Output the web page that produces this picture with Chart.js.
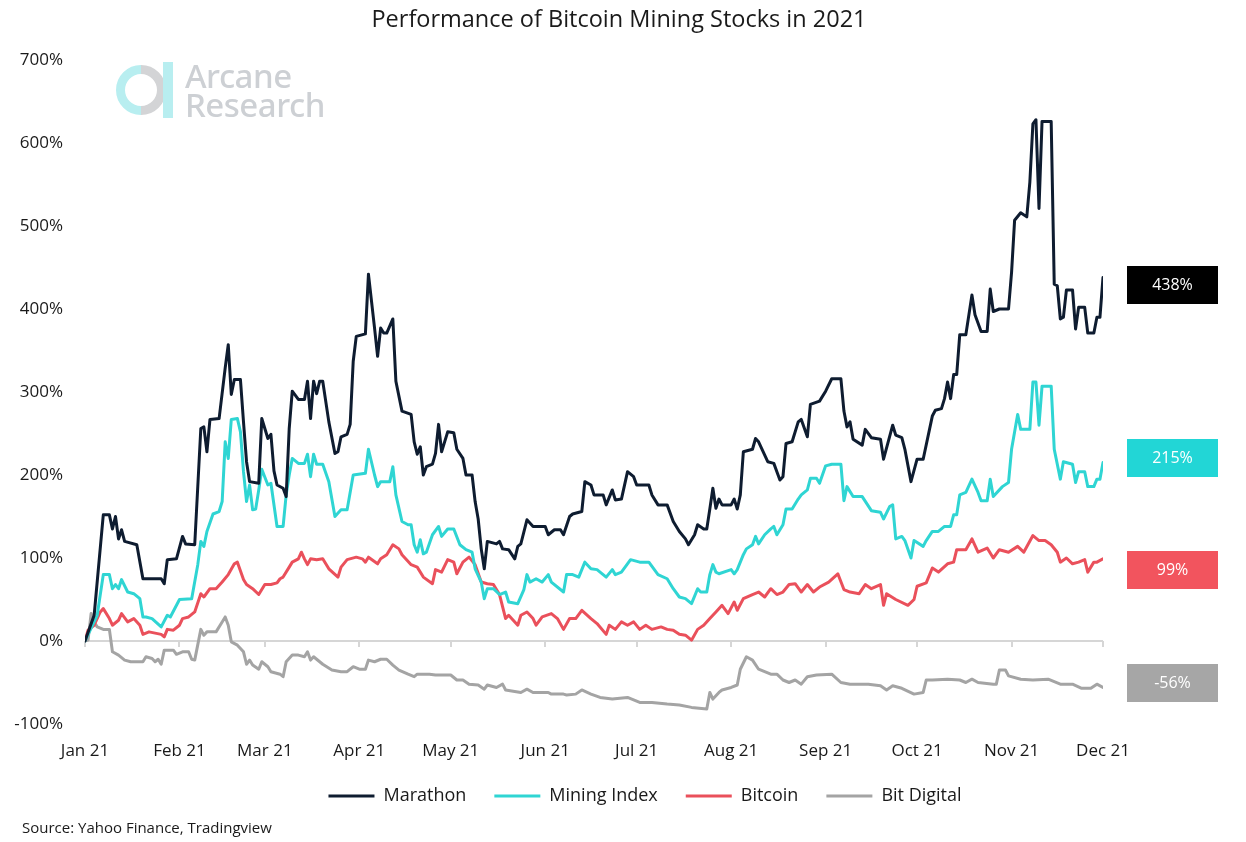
<!DOCTYPE html>
<html><head><meta charset="utf-8">
<script src="https://cdn.jsdelivr.net/npm/chart.js@4.4.1/dist/chart.umd.min.js"></script>
<style>
html,body{margin:0;padding:0;background:#fff;}
#wrap{position:relative;width:1246px;height:842px;overflow:hidden;}
#title{position:absolute;left:0;width:1238px;top:2px;text-align:center;font-family:'Open Sans',sans-serif;font-size:23.5px;color:#1a1a1a;}
#logo{position:absolute;left:115px;top:60px;width:240px;height:62px;}
#logo .txt{position:absolute;left:70px;top:1px;font-family:'Noto Sans',sans-serif;font-weight:500;font-size:33px;line-height:29px;color:#cdd0d4;letter-spacing:-0.5px;}
#source{position:absolute;left:22px;top:817px;font-family:'Open Sans',sans-serif;font-size:15px;color:#1a1a1a;}
canvas{position:absolute;left:0;top:0;}
</style></head>
<body><div id="wrap">
<canvas id="c" width="1246" height="842"></canvas>
<div id="title">Performance of Bitcoin Mining Stocks in 2021</div>
<div id="logo"><svg width="62" height="62" viewBox="0 0 62 62" style="position:absolute;left:0;top:0">
<path d="M26 9.5 A20.5 20.5 0 0 0 26 50.5" fill="none" stroke="#b8eef0" stroke-width="9"/>
<path d="M26 9.5 A20.5 20.5 0 0 1 26 50.5" fill="none" stroke="#d3d4d6" stroke-width="9"/>
<rect x="48" y="2" width="10" height="56" fill="#b8eef0"/>
</svg><div class="txt">Arcane<br>Research</div></div>
<div id="source">Source: Yahoo Finance, Tradingview</div>
</div>
<script>
// ---- Data (day offset from 1 Jan 2021, cumulative return in %) ----
const monthStarts = [0,31,59,90,120,151,181,212,243,273,304,334];
const monthLabels = ['Jan 21','Feb 21','Mar 21','Apr 21','May 21','Jun 21','Jul 21','Aug 21','Sep 21','Oct 21','Nov 21','Dec 21'];

const marathonDays = [0,3,6,8,9,10,11,12,13,17,19,25,26,27,30,32,33,36,38,39,40,41,44,46,47,48,49,51,52,53,54,57,58,60,61,62,63,65,66,67,68,70,72,73,74,75,76,77,78,80,82,83,84,86,87,88,89,92,93,95,96,97,98,99,101,102,104,107,108,109,110,111,112,114,115,116,117,119,121,122,124,125,127,128,129,130,131,132,135,136,137,139,141,142,143,145,147,151,152,154,156,157,159,160,163,164,166,167,170,171,173,174,176,178,180,181,185,186,188,191,193,195,197,198,200,201,203,204,205,206,207,208,209,212,213,214,215,216,219,220,221,224,226,227,228,229,230,232,234,235,237,238,241,243,245,248,249,250,251,252,255,256,258,261,262,265,266,268,269,271,273,275,278,279,281,282,283,284,285,286,287,289,291,292,294,296,297,298,300,303,304,305,307,309,310,311,312,313,314,317,318,319,320,321,322,324,325,326,328,329,331,332,333,334];
const marathonVals = [0,31,152,152,135,150,123,134,120,116,75,75,69,98,99,126,117,116,256,258,228,267,268,329,357,297,315,315,264,216,192,190,268,244,249,205,188,184,174,256,301,291,291,313,268,313,298,313,313,264,226,228,246,249,261,337,367,370,442,377,343,377,371,371,388,313,277,273,240,225,234,200,210,213,226,261,228,252,251,231,220,200,200,168,147,111,87,120,117,120,111,110,99,114,117,146,138,138,128,134,134,128,150,153,156,192,188,176,176,164,182,170,171,204,198,188,188,176,164,164,144,132,123,116,128,140,135,135,159,184,160,171,164,164,171,159,176,228,231,244,240,216,214,204,194,198,238,240,264,267,246,285,289,301,316,316,277,258,264,243,236,255,245,243,219,260,248,245,231,192,219,219,271,278,280,292,312,292,321,321,369,369,417,393,373,373,424,397,400,400,444,507,516,511,553,623,628,521,626,626,430,428,388,390,423,423,376,402,402,371,371,390,390,438];

const miningDays = [0,4,6,8,9,10,11,12,14,16,18,19,20,22,25,27,28,31,35,37,38,39,40,42,44,45,46,47,48,50,51,52,53,54,55,56,57,58,60,61,63,65,66,67,68,70,72,73,74,75,76,78,80,82,84,86,88,92,93,95,96,97,100,101,102,104,106,107,108,109,110,111,112,114,116,117,119,121,123,125,127,128,130,131,132,134,136,138,139,142,144,145,146,148,150,152,153,157,158,160,162,164,166,168,171,173,174,176,179,182,185,188,191,193,195,197,199,201,202,204,205,206,207,208,212,213,214,216,217,219,220,221,223,225,226,227,229,230,232,234,235,237,238,240,241,243,245,248,249,250,252,255,258,261,262,264,265,266,268,269,271,272,275,276,278,280,282,284,285,286,287,289,291,293,294,296,297,298,301,303,304,306,307,310,311,312,313,314,317,318,320,321,324,325,326,328,329,331,332,333,334];
const miningVals = [0,31,80,80,63,68,63,74,59,57,51,29,29,27,17,31,29,50,51,92,120,114,132,153,156,168,240,220,267,268,252,204,168,188,158,159,182,207,188,190,138,138,176,200,220,214,214,225,198,225,213,213,192,150,158,158,200,202,231,200,186,192,192,210,176,144,140,140,116,107,122,105,107,128,138,126,135,135,116,110,107,87,71,51,63,63,56,59,47,45,62,80,71,75,71,80,71,59,80,80,77,95,87,86,77,86,80,83,98,95,95,80,75,63,53,51,45,63,59,59,80,92,83,81,86,81,86,104,111,116,126,117,128,135,138,128,140,159,159,171,176,182,196,196,190,211,213,213,169,186,174,174,157,155,147,162,164,123,126,121,100,121,114,121,132,132,138,138,152,152,176,179,195,179,169,169,195,174,186,191,231,273,255,255,312,312,260,307,307,231,195,216,213,191,204,204,186,186,195,195,215];

const bitcoinDays = [0,1,3,5,6,8,9,11,12,14,16,18,19,21,25,26,27,29,31,32,34,36,38,39,41,43,45,47,49,50,52,53,55,57,59,61,63,64,65,67,68,70,71,72,73,74,76,78,80,83,84,86,89,91,92,93,96,97,99,101,103,104,107,109,111,114,115,117,119,121,122,124,126,128,130,132,134,136,138,139,142,143,145,147,148,150,153,155,157,159,161,163,166,168,171,172,174,176,178,180,182,184,186,189,191,193,195,197,199,201,203,205,207,209,211,213,214,216,219,221,223,225,227,229,231,233,235,237,239,241,244,247,249,251,254,256,258,261,262,263,266,270,272,273,276,278,280,283,285,286,289,291,293,296,298,300,303,306,308,311,313,315,317,319,320,322,324,326,328,329,331,332,334];
const bitcoinVals = [0,13,19,35,39,27,19,25,33,23,27,19,8,11,8,5,14,13,19,27,29,35,57,53,63,63,71,80,93,95,74,68,63,56,68,68,70,75,77,89,95,99,107,99,92,99,98,99,87,77,89,98,101,99,95,101,93,99,104,116,111,104,92,89,77,69,86,83,98,95,81,95,101,92,71,69,68,56,27,31,19,31,35,27,19,29,33,27,14,27,27,37,27,21,8,19,14,23,19,23,14,19,14,17,14,13,8,7,1,14,19,27,35,43,33,47,37,51,56,59,53,63,56,59,68,69,59,68,59,65,71,81,62,59,57,68,63,68,43,57,50,43,50,66,70,88,83,93,95,110,110,123,107,112,100,110,107,114,107,127,121,121,116,107,95,100,93,95,98,83,95,95,99];

const bitDigitalDays = [0,1,2,3,4,6,8,9,11,13,15,19,20,22,23,24,25,26,29,30,32,34,35,36,38,39,40,43,45,46,47,48,50,52,53,54,55,57,58,60,61,64,65,66,68,70,72,73,74,75,76,78,81,84,86,88,90,92,93,95,97,99,101,103,106,108,109,113,115,120,122,124,126,129,131,132,135,137,138,143,145,147,152,153,157,158,161,163,166,169,173,178,182,186,191,195,199,204,205,206,208,209,212,214,215,217,219,221,225,227,229,231,233,235,237,240,245,248,251,257,261,263,265,268,272,275,276,278,283,287,289,291,293,298,299,300,302,303,307,311,316,320,324,327,330,332,334];
const bitDigitalVals = [0,1,33,23,17,14,14,-13,-17,-23,-25,-25,-19,-21,-25,-22,-28,-11,-11,-16,-13,-13,-22,-23,14,7,11,11,23,29,19,-1,-5,-13,-28,-23,-29,-34,-25,-31,-37,-40,-43,-25,-17,-17,-19,-13,-23,-19,-22,-28,-35,-37,-37,-31,-34,-34,-23,-25,-22,-22,-29,-35,-40,-43,-40,-40,-41,-41,-47,-47,-52,-53,-58,-53,-56,-52,-59,-62,-58,-62,-62,-64,-64,-65,-64,-59,-64,-68,-70,-68,-74,-74,-76,-77,-80,-82,-62,-70,-62,-59,-56,-53,-34,-19,-23,-34,-40,-40,-47,-50,-47,-52,-43,-41,-40,-50,-52,-52,-54,-59,-54,-57,-64,-62,-47,-47,-46,-47,-50,-46,-50,-52,-52,-35,-35,-42,-46,-47,-46,-52,-52,-57,-57,-52,-56];

const seriesNames = ['Marathon','Mining Index','Bitcoin','Bit Digital'];
const yTicks = [-100,0,100,200,300,400,500,600,700];

// ---- Chart ----
const colors = ['#0e1c30','#2fd5d3','#ea505b','#a4a4a4'];
const badgeColors = ['#000000','#22d6d6','#f2545e','#a6a6a6'];
const zip = (d, v) => d.map((x, i) => ({x, y: v[i]}));
const allSeries = [zip(marathonDays, marathonVals), zip(miningDays, miningVals), zip(bitcoinDays, bitcoinVals), zip(bitDigitalDays, bitDigitalVals)];

const zeroLinePlugin = {
  id: 'zeroLine',
  beforeDatasetsDraw(chart) {
    const {ctx, chartArea, scales: {x, y}} = chart;
    const y0 = y.getPixelForValue(0);
    ctx.save();
    ctx.strokeStyle = '#d6d6d6';
    ctx.lineWidth = 2;
    ctx.beginPath();
    ctx.moveTo(chartArea.left, y0); ctx.lineTo(chartArea.right, y0);
    monthStarts.forEach(m => { const px = Math.round(x.getPixelForValue(m)); ctx.moveTo(px, y0); ctx.lineTo(px, y0 + 6); });
    ctx.stroke();
    ctx.restore();
  }
};

const legendShiftPlugin = {
  id: 'legendShift',
  afterLayout(chart, args, opts) {
    const lg = chart.legend;
    lg.left += opts.dx; lg.right += opts.dx;
    lg.top += opts.dy; lg.bottom += opts.dy;
  }
};

const badgePlugin = {
  id: 'badges',
  afterDraw(chart, args, opts) {
    const {ctx, scales: {y}} = chart;
    ctx.save();
    chart.data.datasets.forEach((ds, i) => {
      const last = ds.data[ds.data.length - 1].y;
      const cy = y.getPixelForValue(last + opts.shift[i]);
      ctx.fillStyle = badgeColors[i];
      ctx.fillRect(opts.left, Math.round(cy - opts.h / 2), opts.w, opts.h);
      ctx.fillStyle = '#ffffff';
      ctx.font = '16px "Open Sans", sans-serif';
      ctx.textAlign = 'center';
      ctx.textBaseline = 'middle';
      ctx.fillText(Math.round(last) + '%', opts.left + opts.w / 2, cy + 1);
    });
    ctx.restore();
  }
};

new Chart(document.getElementById('c'), {
  type: 'line',
  data: {
    datasets: seriesNames.map((name, i) => ({
      label: name,
      data: allSeries[i],
      borderColor: colors[i],
      backgroundColor: colors[i],
      borderWidth: 3,
      borderCapStyle: 'round',
      borderJoinStyle: 'round',
      pointRadius: 0,
      pointStyle: 'line',
      tension: 0
    }))
  },
  options: {
    responsive: false,
    animation: false,
    layout: {padding: {left: 0, right: 0, top: 60, bottom: 21}},
    scales: {
      x: {
        type: 'linear', min: 0, max: 334,
        afterBuildTicks: s => { s.ticks = monthStarts.map(v => ({value: v})); },
        afterFit: s => { s.height = 41; },
        grid: {display: false, drawTicks: false}, border: {display: false},
        ticks: {autoSkip: false, maxRotation: 0, padding: 17, color: '#1a1a1a',
          font: {family: 'Open Sans', size: 17},
          callback: (v, i) => monthLabels[i]}
      },
      y: {
        min: -100, max: 700,
        afterBuildTicks: s => { s.ticks = yTicks.map(v => ({value: v})); },
        afterFit: s => { s.width = 85; },
        grid: {display: false, drawTicks: false}, border: {display: false},
        ticks: {padding: 22, color: '#1a1a1a', font: {family: 'Open Sans', size: 17},
          callback: v => v + '%'}
      },
      yR: {
        position: 'right', display: true,
        afterFit: s => { s.width = 143; },
        grid: {display: false, drawTicks: false}, border: {display: false}, ticks: {display: false}
      }
    },
    plugins: {
      title: {display: false},
      tooltip: {enabled: false},
      legend: {
        position: 'bottom',
        labels: {
          usePointStyle: true, pointStyle: 'line', pointStyleWidth: 46,
          padding: 28, color: '#1a1a1a', font: {family: 'Open Sans', size: 18}
        }
      },
      legendShift: {dx: 22, dy: -6},
      badges: {left: 1127, w: 91, h: 38, shift: [-9, 6, -13, 6]}
    }
  },
  plugins: [zeroLinePlugin, legendShiftPlugin, badgePlugin]
});
</script>
</body></html>
